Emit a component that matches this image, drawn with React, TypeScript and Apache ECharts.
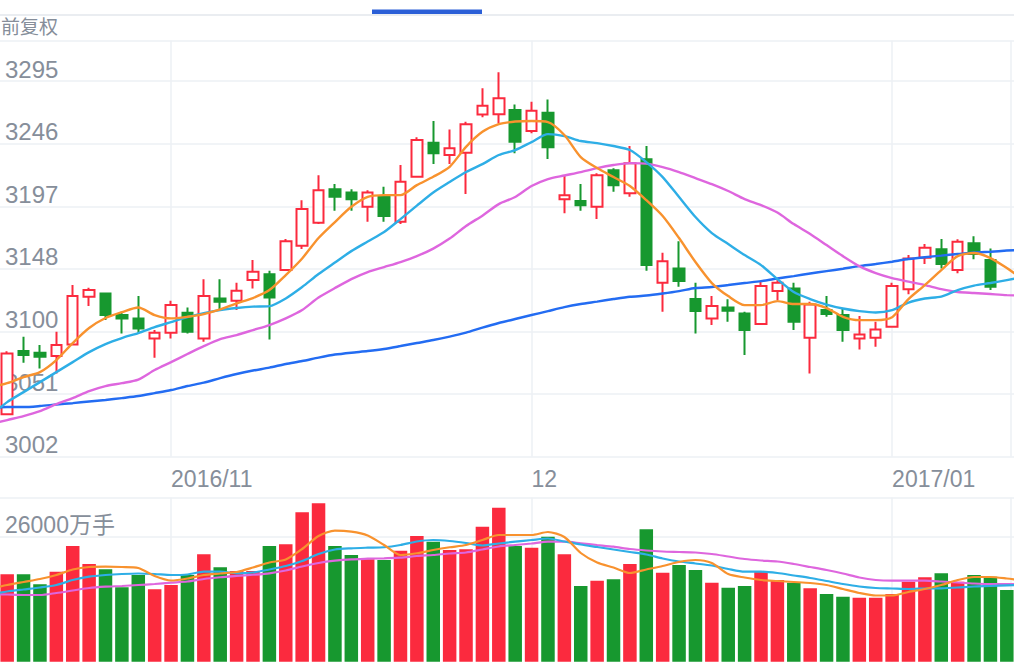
import React, { useEffect, useRef } from 'react';
import * as echarts from 'echarts';

// ---- data -----------------------------------------------------------------
// first and last dates sit just outside the visible window (only MA lines reach the edges)
const dates = [
  '2016-10-17',
  '2016-10-18', '2016-10-19', '2016-10-20', '2016-10-21', '2016-10-24', '2016-10-25', '2016-10-26', '2016-10-27', '2016-10-28', '2016-10-31',
  '2016-11-01', '2016-11-02', '2016-11-03', '2016-11-04', '2016-11-07', '2016-11-08', '2016-11-09', '2016-11-10', '2016-11-11', '2016-11-14',
  '2016-11-15', '2016-11-16', '2016-11-17', '2016-11-18', '2016-11-21', '2016-11-22', '2016-11-23', '2016-11-24', '2016-11-25', '2016-11-28',
  '2016-11-29', '2016-11-30', '2016-12-01', '2016-12-02', '2016-12-05', '2016-12-06', '2016-12-07', '2016-12-08', '2016-12-09', '2016-12-12',
  '2016-12-13', '2016-12-14', '2016-12-15', '2016-12-16', '2016-12-19', '2016-12-20', '2016-12-21', '2016-12-22', '2016-12-23', '2016-12-26',
  '2016-12-27', '2016-12-28', '2016-12-29', '2016-12-30', '2017-01-03', '2017-01-04', '2017-01-05', '2017-01-06', '2017-01-09', '2017-01-10',
  '2017-01-11', '2017-01-12',
  '2017-01-13',
];
const firstShownDate = '2016-10-18';

// [open, close, low, high], from 2016-10-18 on
const candles = [
  [3035.1, 3082.5, 3035.1, 3084.1], [3084.3, 3081.2, 3075.2, 3095.5], [3083.0, 3079.9, 3070.8, 3089.0], [3080.4, 3089.0, 3066.9, 3099.4],
  [3089.5, 3127.2, 3089.0, 3135.8], [3126.7, 3131.9, 3119.4, 3133.7], [3129.3, 3112.4, 3108.5, 3130.1], [3112.4, 3109.8, 3098.1, 3115.0],
  [3109.8, 3102.0, 3098.1, 3127.2], [3094.2, 3098.6, 3079.1, 3100.7], [3098.6, 3120.2, 3094.2, 3123.6], [3114.2, 3099.4, 3098.1, 3118.4],
  [3094.2, 3127.2, 3091.6, 3140.3], [3125.4, 3122.8, 3116.3, 3140.3], [3123.6, 3131.4, 3116.3, 3137.6], [3139.7, 3146.2, 3133.2, 3155.3],
  [3144.2, 3126.2, 3093.4, 3147.0], [3147.5, 3170.1, 3147.5, 3171.7], [3166.5, 3195.1, 3163.9, 3202.1], [3184.4, 3209.9, 3183.4, 3221.6],
  [3210.5, 3204.7, 3193.8, 3214.6], [3208.1, 3202.7, 3193.8, 3210.5], [3196.9, 3208.1, 3185.2, 3209.9], [3205.3, 3189.7, 3185.2, 3212.5],
  [3185.2, 3216.4, 3183.4, 3229.5], [3220.3, 3249.0, 3219.9, 3251.1], [3246.9, 3238.6, 3230.2, 3263.8], [3237.3, 3242.5, 3230.2, 3257.3],
  [3239.1, 3261.4, 3206.8, 3263.2], [3269.0, 3275.7, 3266.7, 3289.3], [3269.2, 3281.5, 3262.0, 3301.8], [3272.4, 3247.6, 3238.6, 3276.8],
  [3256.0, 3271.8, 3254.2, 3278.8], [3270.3, 3243.3, 3234.1, 3280.7], [3202.7, 3206.0, 3191.8, 3220.9], [3201.4, 3198.2, 3193.8, 3214.6],
  [3196.9, 3221.6, 3187.3, 3223.0], [3225.5, 3213.8, 3208.6, 3226.9], [3207.4, 3230.8, 3204.7, 3244.3], [3233.9, 3151.4, 3147.0, 3244.3],
  [3137.6, 3154.5, 3115.0, 3161.0], [3148.8, 3138.9, 3134.5, 3170.1], [3124.9, 3115.5, 3098.1, 3137.6], [3109.8, 3119.4, 3104.6, 3127.2],
  [3118.4, 3115.8, 3107.2, 3124.7], [3113.7, 3100.7, 3081.2, 3115.0], [3105.4, 3135.0, 3105.4, 3138.4], [3131.1, 3137.6, 3124.1, 3141.0],
  [3133.2, 3107.2, 3100.7, 3137.6], [3094.7, 3120.7, 3066.9, 3122.8], [3116.3, 3113.2, 3111.1, 3127.2], [3112.4, 3100.7, 3091.6, 3117.6],
  [3094.2, 3097.3, 3085.6, 3111.6], [3094.7, 3101.2, 3087.7, 3107.2], [3103.3, 3135.0, 3102.8, 3137.6], [3132.5, 3156.6, 3128.6, 3159.2],
  [3157.1, 3164.9, 3152.2, 3167.8], [3163.7, 3152.2, 3148.8, 3171.7], [3147.5, 3169.6, 3145.0, 3171.5], [3168.4, 3160.0, 3155.9, 3174.0],
  [3155.3, 3134.5, 3131.9, 3164.4],
];

// moving averages, one value per date (all 64)
const ma5 = [
  3056.0,
  3059.3, 3064.0, 3067.9, 3077.3, 3090.6, 3102.3, 3110.1, 3114.7, 3118.3, 3112.4,
  3109.8, 3111.1, 3113.2, 3116.8, 3121.5, 3125.7, 3131.9, 3143.6, 3156.6, 3172.5,
  3185.0, 3196.9, 3204.7, 3206.0, 3206.0, 3213.8, 3220.3, 3228.1, 3243.7, 3255.4,
  3261.4, 3263.4, 3263.8, 3263.0, 3252.9, 3235.7, 3227.1, 3220.1, 3213.1, 3202.1,
  3189.7, 3172.5, 3153.8, 3137.4, 3127.2, 3120.2, 3120.2, 3123.3, 3121.0, 3121.0,
  3117.9, 3111.1, 3108.5, 3108.5, 3110.8, 3124.9, 3135.8, 3147.5, 3158.4, 3160.8,
  3156.9, 3149.1,
  3140.1,
];
const ma10 = [
  3034.0,
  3044.5, 3052.3, 3060.1, 3067.9, 3075.7, 3083.5, 3089.8, 3094.5, 3098.4, 3103.0,
  3106.9, 3110.8, 3113.9, 3116.3, 3117.9, 3119.0, 3119.4, 3125.4, 3134.3, 3144.4,
  3153.4, 3162.3, 3169.8, 3177.2, 3187.3, 3197.8, 3208.0, 3216.2, 3224.0, 3230.2,
  3237.3, 3241.2, 3247.4, 3253.6, 3252.1, 3248.2, 3246.6, 3244.3, 3241.2, 3231.8,
  3220.1, 3204.5, 3188.9, 3176.4, 3167.8, 3159.2, 3151.4, 3140.5, 3130.4, 3124.9,
  3120.6, 3117.5, 3115.5, 3114.4, 3116.3, 3122.2, 3125.3, 3126.8, 3131.9, 3135.4,
  3137.4, 3139.7,
  3142.0,
];
const ma20 = [
  3027.3,
  3030.5, 3033.6, 3037.5, 3042.9, 3047.6, 3053.1, 3057.0, 3059.3, 3062.1, 3069.5,
  3075.7, 3082.0, 3088.2, 3093.7, 3096.8, 3100.7, 3104.6, 3109.8, 3116.3, 3126.1,
  3133.5, 3140.5, 3146.0, 3149.9, 3153.8, 3158.4, 3164.3, 3172.1, 3181.9, 3190.0,
  3199.0, 3204.5, 3213.1, 3218.5, 3221.3, 3224.0, 3227.1, 3229.5, 3231.0, 3230.6,
  3227.9, 3224.0, 3219.3, 3214.6, 3209.2, 3202.9, 3198.2, 3192.4, 3183.4, 3175.6,
  3167.0, 3158.4, 3150.6, 3145.2, 3141.3, 3138.5, 3135.8, 3132.7, 3130.4, 3129.6,
  3128.8, 3128.0,
  3127.6,
];
const ma60 = [
  3040.3,
  3040.6, 3040.6, 3041.4, 3042.6, 3043.7, 3044.9, 3046.1, 3047.6, 3049.2, 3051.5,
  3053.9, 3057.0, 3059.7, 3063.2, 3066.4, 3069.1, 3071.4, 3074.2, 3076.5, 3079.2,
  3081.6, 3083.1, 3084.3, 3085.9, 3088.2, 3090.6, 3092.9, 3095.6, 3098.7, 3102.6,
  3106.2, 3109.3, 3112.4, 3115.5, 3118.6, 3121.0, 3122.9, 3124.9, 3126.7, 3127.6,
  3129.2, 3131.1, 3133.5, 3134.3, 3135.8, 3137.4, 3138.9, 3140.9, 3142.8, 3144.8,
  3146.7, 3148.6, 3150.6, 3152.2, 3154.1, 3156.1, 3157.6, 3158.8, 3160.0, 3161.2,
  3161.9, 3162.7,
  3163.3,
];

// volume (万手), from 2016-10-18 to 2017-01-12
const volumes = [
  18180, 18180, 16090, 18720, 24070, 20320, 19210, 15470, 18030, 15050,
  15950, 18030, 22340, 19630, 18860, 18860, 24070, 24410, 31070, 32940,
  24070, 22190, 21290, 21150, 23090, 26140, 24960, 23230, 23370, 28080,
  32030, 24070, 23710, 26000, 22340, 15740, 16850, 17130, 20320, 27530,
  18510, 20110, 19070, 16430, 15390, 15740, 18720, 16990, 16430, 15260,
  14080, 13520, 13310, 13310, 14080, 16640, 17550, 18380, 16640, 18030,
  17680, 14910,
];
// volume moving averages, one value per date (all 64)
const volMa5 = [
  15230,
  15950, 16580, 17200, 18030, 19180, 19700, 19760, 19700, 19490, 17830,
  16890, 17310, 18030, 18350, 18660, 19590, 20630, 21260, 23440, 26150,
  27250, 27040, 26250, 24270, 22190, 22550, 23230, 23800, 24270, 25310,
  26350, 26350, 26350, 26980, 25940, 22610, 20630, 19590, 18450, 19180,
  19910, 20740, 21150, 20530, 18240, 17510, 16990, 16790, 16580, 16370,
  15950, 15120, 14290, 13770, 13770, 14500, 15120, 15950, 16990, 17620,
  17620, 17310,
  16890,
];
const volMa10 = [
  14080,
  14600, 15020, 15430, 15950, 16990, 17680, 18030, 18240, 18350, 18240,
  18030, 18140, 18720, 18720, 18390, 18550, 19180, 19910, 20950, 22400,
  23340, 23590, 23710, 23800, 24270, 25000, 25310, 25110, 24690, 24170,
  24590, 24960, 25310, 25630, 25000, 24380, 23860, 23340, 22820, 22300,
  21470, 20840, 20430, 20010, 19280, 18720, 18720, 18450, 17930, 17410,
  16790, 16160, 15640, 15330, 15230, 15120, 15230, 15270, 15430, 15640,
  15750, 15890,
  16020,
];
const volMa20 = [
  14080,
  13980, 13870, 13870, 14290, 14810, 15330, 15600, 15750, 15950, 16160,
  16430, 16680, 17200, 17560, 17830, 18080, 18390, 18970, 19800, 20530,
  21010, 21300, 21420, 21510, 21630, 21990, 22190, 22510, 22710, 23340,
  23960, 24270, 24590, 24960, 24960, 24630, 24270, 23920, 23440, 23130,
  22920, 22820, 22710, 22400, 21880, 21360, 21050, 20840, 20320, 19700,
  19070, 18350, 17510, 16990, 16850, 16850, 16850, 16680, 16470, 16270,
  16160, 16160,
  16160,
];

const tickDates = ['2016-11-01', '2016-12-01', '2017-01-03'];
const tickLabels = ['2016/11', '12', '2017/01'];

const priceMin = 3001.9;
const priceMax = 3326.5;
const priceStep = 48.85;
const volumeMax = 34112;
const volumeStep = 26000;
const volumeUnit = '万手';
const adjustLabel = '前复权';

// ---- styles ---------------------------------------------------------------
const RED = '#fb2a3e';
const GREEN = '#17982f';
const GRID = '#edf0f5';
const TEXT = '#868e9a';
const FONT = '"Liberation Sans", Arial, "Noto Sans CJK SC", sans-serif';
const C_MA5 = '#f8922e';
const C_MA10 = '#2eaee6';
const C_MA20 = '#de66de';
const C_MA60 = '#236cf2';

const tickIdx = tickDates.map((d) => dates.indexOf(d));
const offset = dates.indexOf(firstShownDate);

export default function App() {
  const ref = useRef<HTMLDivElement>(null);

  useEffect(() => {
    if (!ref.current) return;
    const chart = echarts.init(ref.current, null, { renderer: 'svg' });

    const isTick = (i: number) => tickIdx.includes(i);

    const lineSeries = (name: string, data: number[], color: string, axis: number, width: number) => ({
      name,
      type: 'line',
      xAxisIndex: axis,
      yAxisIndex: axis,
      data,
      symbol: 'none',
      showSymbol: false,
      smooth: 0.25,
      silent: true,
      z: 4,
      lineStyle: { color, width },
    });

    // one category band is ~16.39px; the outer two bands lie outside the canvas
    const edge = -17.4;

    const option: any = {
      animation: false,
      backgroundColor: '#ffffff',
      grid: [
        { left: edge, right: edge, top: 40.7, height: 416, outerBoundsMode: 'none', containLabel: false },
        { left: edge, right: edge, top: 497.7, bottom: 10.3, outerBoundsMode: 'none', containLabel: false },
      ],
      xAxis: [0, 1].map((gi) => ({
        type: 'category',
        gridIndex: gi,
        data: dates,
        boundaryGap: true,
        axisLine: { show: false },
        axisTick: { show: false },
        axisPointer: { show: false },
        axisLabel: {
          show: gi === 0,
          interval: (i: number) => isTick(i),
          formatter: (v: string) => {
            const k = tickDates.indexOf(v);
            return k >= 0 ? tickLabels[k] : '';
          },
          align: 'left',
          color: TEXT,
          fontSize: 23,
          fontFamily: FONT,
          margin: 11,
        },
        splitLine: {
          show: true,
          interval: (i: number) => isTick(i),
          alignWithLabel: true,
          lineStyle: { color: GRID, width: 1.5 },
        },
      })),
      yAxis: [
        {
          type: 'value',
          gridIndex: 0,
          min: priceMin,
          max: priceMax,
          interval: priceStep,
          axisLine: { show: false },
          axisTick: { show: false },
          axisLabel: {
            inside: true,
            margin: 22.4,
            verticalAlign: 'bottom',
            showMaxLabel: false,
            formatter: (v: number) => String(Math.round(v)),
            color: TEXT,
            fontSize: 24,
            fontFamily: FONT,
          },
          splitLine: { show: true, lineStyle: { color: GRID, width: 1.5 } },
        },
        {
          type: 'value',
          gridIndex: 1,
          min: 0,
          max: volumeMax,
          interval: volumeStep,
          axisLine: { show: false },
          axisTick: { show: false },
          axisLabel: {
            inside: true,
            margin: 22.4,
            verticalAlign: 'bottom',
            showMaxLabel: false,
            showMinLabel: false,
            formatter: (v: number) => (v === volumeStep ? `${v}${volumeUnit}` : ''),
            color: TEXT,
            fontSize: 23,
            fontFamily: FONT,
          },
          splitLine: { show: true, showMinLine: false, lineStyle: { color: GRID, width: 1.5 } },
        },
      ],
      graphic: [
        { type: 'line', z: -10, shape: { x1: 0, y1: 15, x2: 1014, y2: 15 }, style: { stroke: '#e3e7ed', lineWidth: 1.5 } },
        { type: 'rect', shape: { x: 372, y: 9.5, width: 110, height: 4.5 }, style: { fill: '#2b5fd7' } },
        {
          type: 'text',
          left: 1,
          top: 16,
          style: { text: adjustLabel, fill: TEXT, font: `19px "Noto Sans CJK SC", sans-serif` },
        },
        { type: 'line', z: -10, shape: { x1: 1011, y1: 40.7, x2: 1011, y2: 456.7 }, style: { stroke: GRID, lineWidth: 1.5 } },
        { type: 'line', z: -10, shape: { x1: 1011, y1: 497.7, x2: 1011, y2: 661.7 }, style: { stroke: GRID, lineWidth: 1.5 } },
      ],
      series: [
        {
          name: 'K',
          type: 'candlestick',
          xAxisIndex: 0,
          yAxisIndex: 0,
          data: candles.map((c, i) => [i + offset, ...c]),
          encode: { x: 0, y: [1, 2, 3, 4] },
          barWidth: 11,
          silent: true,
          z: 3,
          itemStyle: {
            color: '#ffffff',
            color0: GREEN,
            borderColor: RED,
            borderColor0: GREEN,
            borderWidth: 2,
          },
        },
        lineSeries('MA60', ma60, C_MA60, 0, 2.5),
        lineSeries('MA20', ma20, C_MA20, 0, 2.4),
        lineSeries('MA10', ma10, C_MA10, 0, 2.4),
        lineSeries('MA5', ma5, C_MA5, 0, 2.4),
        {
          name: 'VOL',
          type: 'bar',
          xAxisIndex: 1,
          yAxisIndex: 1,
          barWidth: 13.5,
          silent: true,
          data: volumes.map((v, i) => {
            const c = candles[i];
            const up = c ? c[1] >= c[0] : false;
            return { value: [i + offset, v], itemStyle: { color: up ? RED : GREEN } };
          }),
        },
        lineSeries('VMA20', volMa20, C_MA20, 1, 2.2),
        lineSeries('VMA10', volMa10, C_MA10, 1, 2.2),
        lineSeries('VMA5', volMa5, C_MA5, 1, 2.2),
      ],
    };

    chart.setOption(option);
    return () => chart.dispose();
  }, []);

  return (
    <div
      ref={ref}
      style={{ position: 'fixed', left: 0, top: 0, width: 1014, height: 672, background: '#fff' }}
    />
  );
}
